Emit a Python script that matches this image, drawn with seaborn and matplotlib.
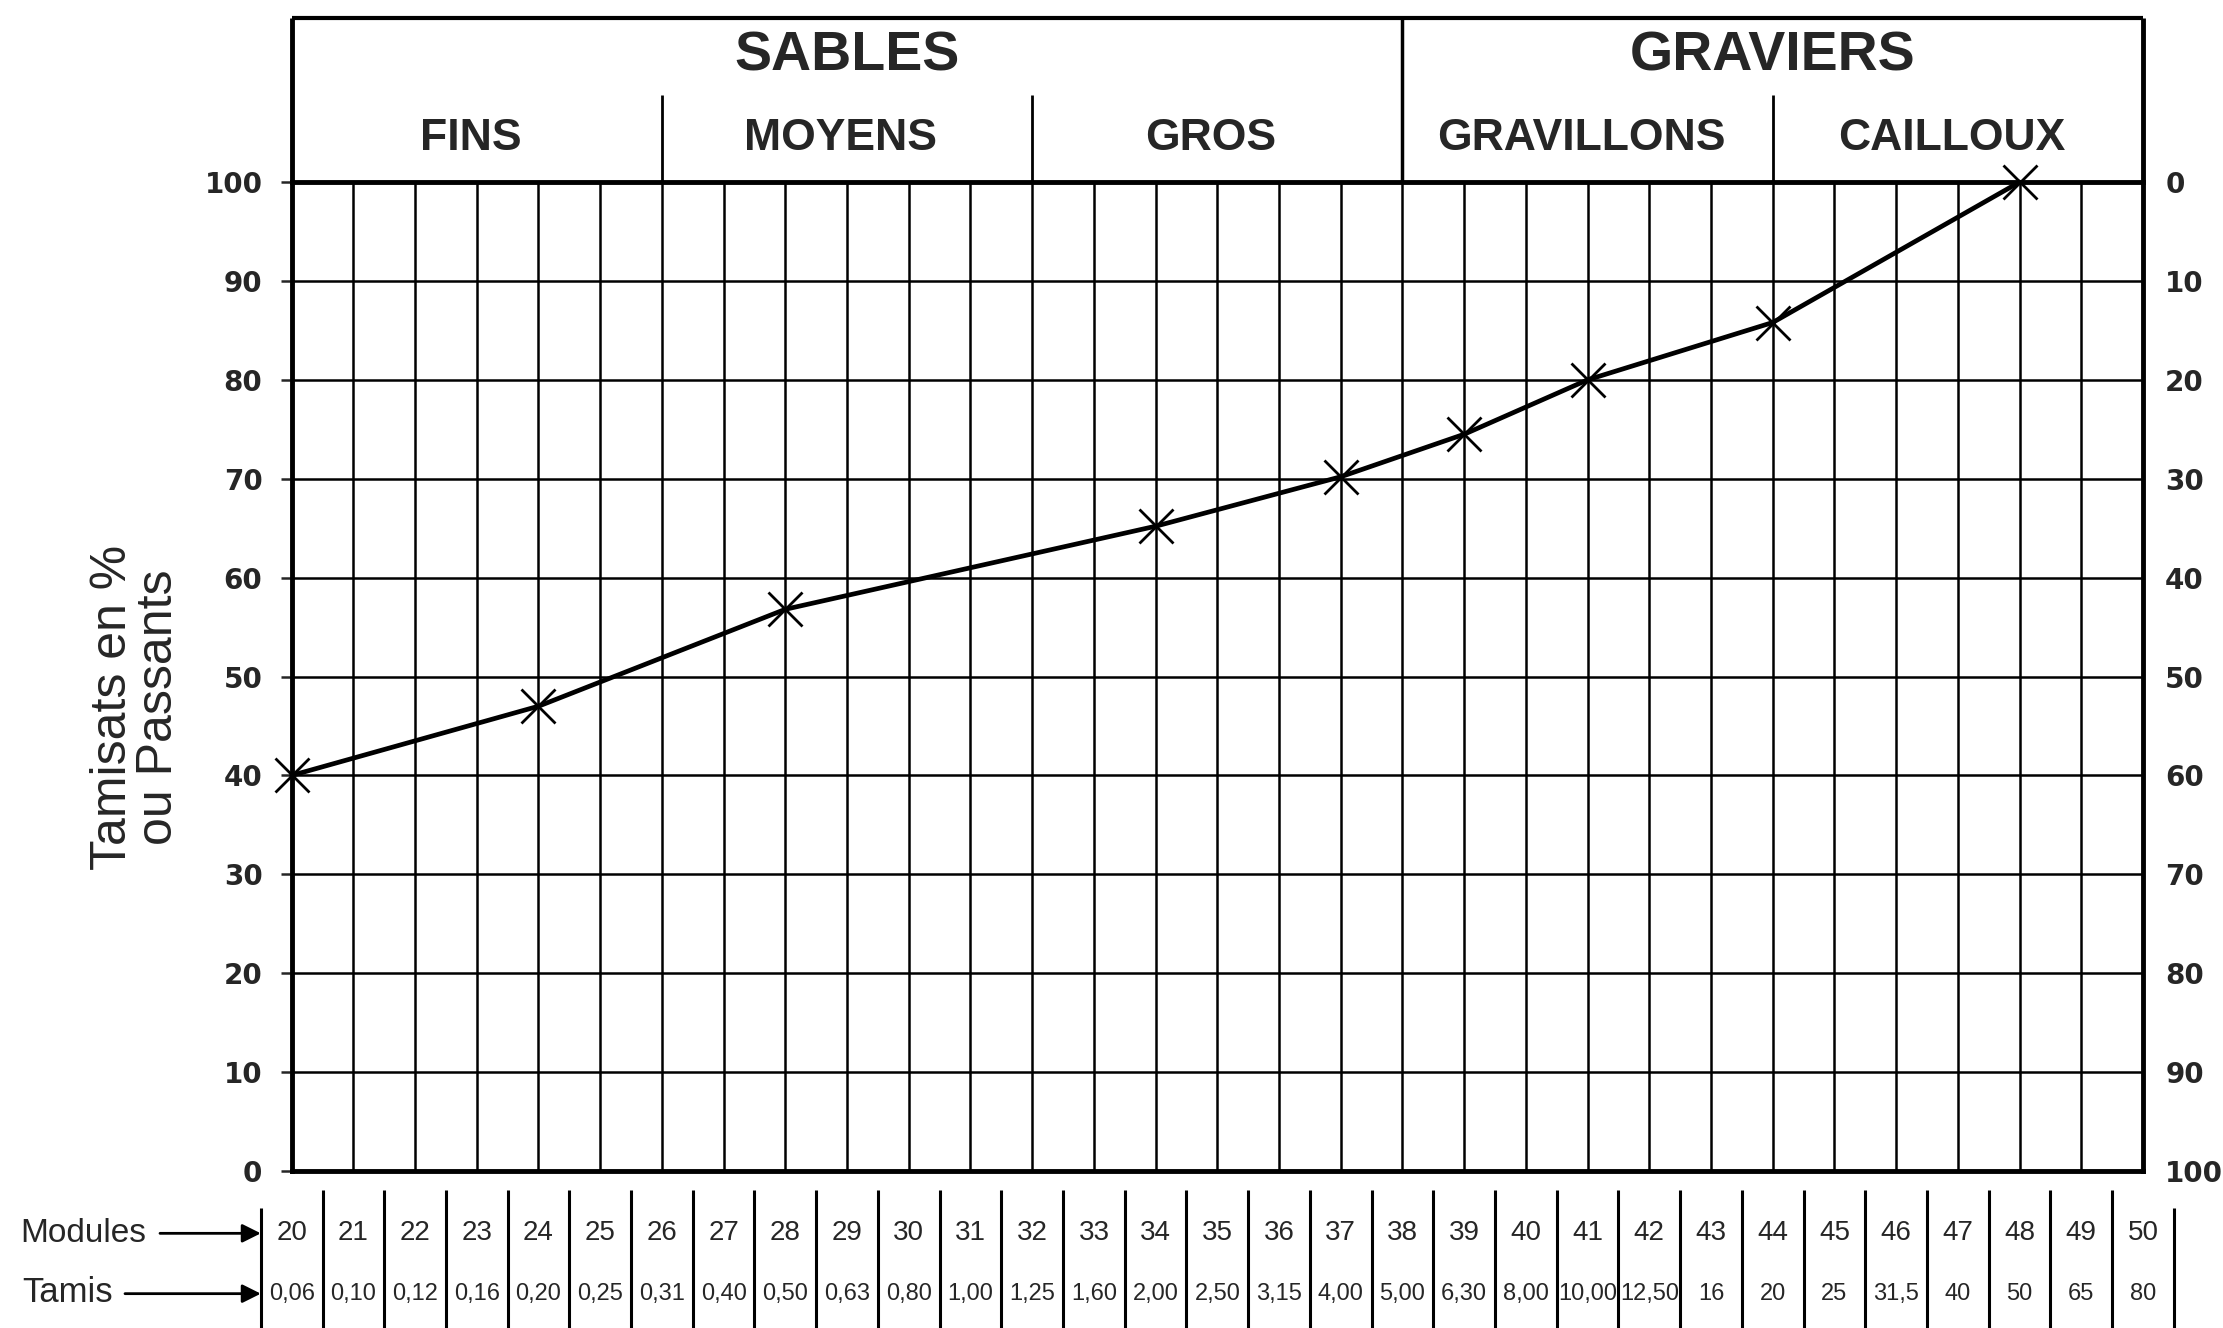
import matplotlib
matplotlib.use("Agg")
import matplotlib.pyplot as plt
import seaborn as sns

# courbe granulometrique : points mesures (module, tamisat cumule en %)
modules_mesures = [20, 24, 28, 34, 37, 39, 41, 44, 48]
tamisats = [40, 47, 56.8, 65.2, 70.2, 74.5, 80, 85.8, 100]

# echelle des modules AFNOR et ouverture des tamis (mm)
modules = [20, 21, 22, 23, 24, 25, 26, 27, 28, 29, 30, 31, 32, 33, 34, 35,
           36, 37, 38, 39, 40, 41, 42, 43, 44, 45, 46, 47, 48, 49, 50]
tamis = ["0,06", "0,10", "0,12", "0,16", "0,20", "0,25", "0,31", "0,40",
         "0,50", "0,63", "0,80", "1,00", "1,25", "1,60", "2,00", "2,50",
         "3,15", "4,00", "5,00", "6,30", "8,00", "10,00", "12,50", "16",
         "20", "25", "31,5", "40", "50", "65", "80"]

graduations = [0, 10, 20, 30, 40, 50, 60, 70, 80, 90, 100]
refus = [100, 90, 80, 70, 60, 50, 40, 30, 20, 10, 0]

# classes granulaires (bornes en modules)
classes = ["SABLES", "GRAVIERS"]
classes_bornes = [20, 38, 50]
sous_classes = ["FINS", "MOYENS", "GROS", "GRAVILLONS", "CAILLOUX"]
sous_bornes = [20, 26, 32, 38, 44, 50]

sns.set_style("white")
plt.rcParams['font.family'] = ['Liberation Sans', 'DejaVu Sans']

fig = plt.figure(figsize=(22.23, 13.28), dpi=100)
ax = fig.add_axes([0.1312, 0.1182, 0.8328, 0.7447])

sns.lineplot(x=modules_mesures, y=tamisats, ax=ax, color='black',
             linewidth=3.4, marker='x', markersize=24, markeredgewidth=2,
             markeredgecolor='black', clip_on=False, zorder=5)

ax.set_xlim(modules[0], modules[-1])
ax.set_ylim(0, 100)
ax.set_xticks(modules)
ax.set_yticks(graduations)
ax.set_xticklabels([])
ax.set_yticklabels([str(v) for v in graduations],
                   fontfamily='DejaVu Sans', fontweight='bold', fontsize=20)
ax.grid(True, color='black', linewidth=1.8)
ax.tick_params(axis='x', length=0)
ax.tick_params(axis='y', length=8, width=1.8, pad=13, left=True)
for sp in ax.spines.values():
    sp.set_linewidth(3.5)
    sp.set_color('black')
ax.set_xlabel('')
ax.set_ylabel('')

# axe de droite : refus cumules
ax2 = ax.twinx()
ax2.set_ylim(0, 100)
ax2.set_yticks(graduations)
ax2.set_yticklabels([str(v) for v in refus],
                    fontfamily='DejaVu Sans', fontweight='bold', fontsize=20)
ax2.tick_params(axis='y', length=0, pad=16)
for sp in ax2.spines.values():
    sp.set_visible(False)

# cartouche du haut
tr = ax.get_xaxis_transform()
y_haut = 1.166
y_sous = 1.088
ax.hlines(y_haut, modules[0], modules[-1], transform=tr, color='black',
          lw=3, clip_on=False)
ax.vlines([modules[0], modules[-1]], 1, y_haut, transform=tr, color='black',
          lw=3.5, clip_on=False)
ax.vlines(classes_bornes[1:-1], 1, y_haut, transform=tr, color='black',
          lw=2.5, clip_on=False)
ax.vlines(sous_bornes[1:-1], 1, y_sous, transform=tr, color='black',
          lw=2, clip_on=False)
for i, nom in enumerate(classes):
    xc = (classes_bornes[i] + classes_bornes[i + 1]) / 2
    ax.text(xc, 1.127, nom, transform=tr, ha='center', va='center',
            fontsize=40, fontweight='bold')
for i, nom in enumerate(sous_classes):
    xc = (sous_bornes[i] + sous_bornes[i + 1]) / 2
    ax.text(xc - 0.1, 1.044, nom, transform=tr, ha='center', va='center',
            fontsize=32, fontweight='bold')

# tableau du bas : modules et tamis
seps = [m - 0.5 for m in modules] + [modules[-1] + 0.5]
ax.vlines(seps[1:-1], -0.019, -0.16, transform=tr, color='black', lw=2.2,
          clip_on=False)
ax.vlines([seps[0], seps[-1]], -0.037, -0.16, transform=tr, color='black',
          lw=2.2, clip_on=False)
for m, t in zip(modules, tamis):
    ax.text(m, -0.063, str(m), transform=tr, ha='center', va='center',
            fontsize=20)
    ax.text(m, -0.124, t, transform=tr, ha='center', va='center',
            fontsize=17)

fig.text(0.009, 1 - 1233 / 1328, "Modules", ha='left', va='center',
         fontsize=24)
fig.text(0.010, 1 - 1293 / 1328, "Tamis", ha='left', va='center',
         fontsize=25)
for x0, yy in [(160 / 2223, -0.063), (125 / 2223, -0.124)]:
    ax.annotate('', xy=(seps[0], yy), xycoords=tr,
                xytext=(x0, yy), textcoords=('figure fraction', tr),
                arrowprops=dict(arrowstyle='-|>', color='black', lw=2,
                                mutation_scale=28, shrinkA=0, shrinkB=0))

fig.text(136 / 2223, 1 - 707 / 1328, "Tamisats en %\nou Passants",
         rotation=90, ha='center', va='center', fontsize=36,
         linespacing=1.0, multialignment='center')

fig.savefig('out.png', dpi=100, facecolor='white')
